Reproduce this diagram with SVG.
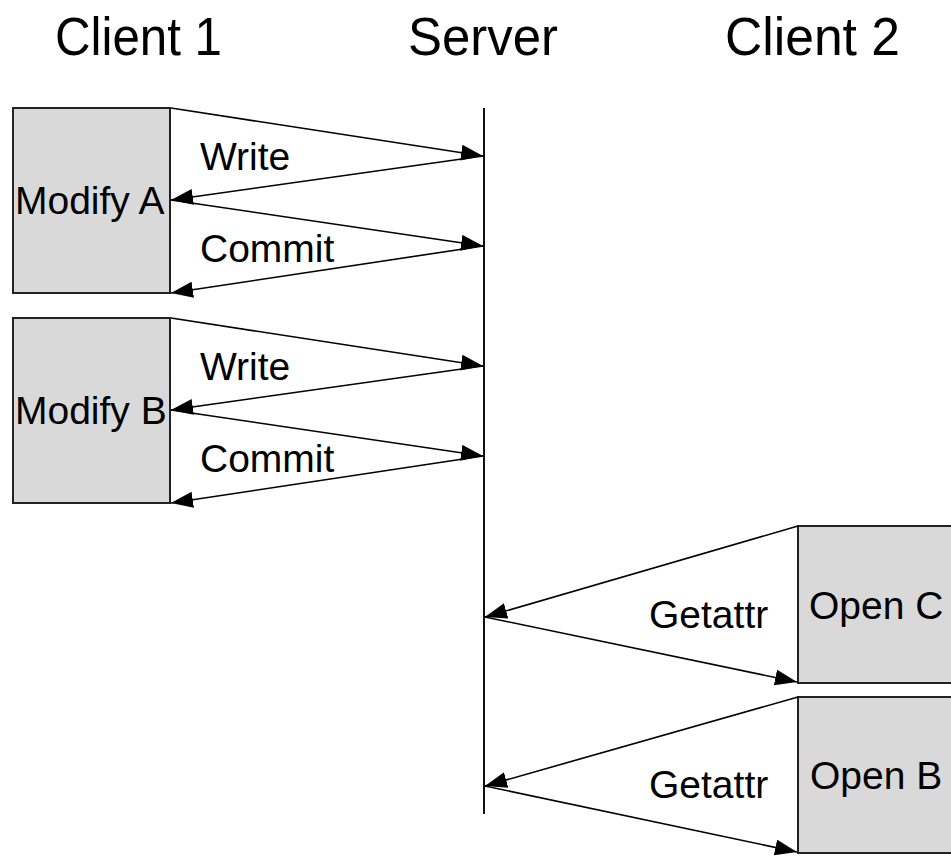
<svg xmlns="http://www.w3.org/2000/svg" width="951" height="856" viewBox="0 0 951 856">
<style>
text{font-family:"Liberation Sans",Arial,sans-serif;fill:#000}
.hdr{font-size:53px}
.lbl{font-size:39px}
.box{fill:#d9d9d9;stroke:#222;stroke-width:2}
.msg{stroke:#000;stroke-width:1.6;fill:none;marker-end:url(#ah)}
</style>
<defs>
<marker id="ah" markerUnits="userSpaceOnUse" markerWidth="24" markerHeight="18" refX="22" refY="8" orient="auto" viewBox="0 0 24 18">
<path d="M0,0 L22,8 L0,16 z" fill="#000"/>
</marker>
</defs>
<rect width="951" height="856" fill="#fff"/>
<g id="headers">
<text class="hdr" x="55" y="55" textLength="167" lengthAdjust="spacingAndGlyphs">Client 1</text>
<text class="hdr" x="408" y="55" textLength="150" lengthAdjust="spacingAndGlyphs">Server</text>
<text class="hdr" x="725" y="55" textLength="175" lengthAdjust="spacingAndGlyphs">Client 2</text>
</g>
<g id="server-line">
<line x1="484" y1="108" x2="484" y2="814" stroke="#111" stroke-width="2"/>
</g>
<g id="modify-a">
<rect class="box" x="13" y="108" width="157" height="185"/>
<text class="lbl" x="15" y="214">Modify A</text>
</g>
<g id="modify-b">
<rect class="box" x="13" y="318" width="157" height="185"/>
<text class="lbl" x="15" y="424">Modify B</text>
</g>
<g id="open-c">
<rect class="box" x="798" y="526" width="160" height="157"/>
<text class="lbl" x="809" y="619">Open C</text>
</g>
<g id="open-b">
<rect class="box" x="798" y="697" width="160" height="156"/>
<text class="lbl" x="810" y="789">Open B</text>
</g>
<g id="connectors">
<line class="msg" x1="171" y1="108" x2="483" y2="156"/>
<line class="msg" x1="483" y1="156" x2="171" y2="200"/>
<line class="msg" x1="171" y1="200" x2="483" y2="246"/>
<line class="msg" x1="483" y1="246" x2="171" y2="293"/>
<line class="msg" x1="171" y1="318" x2="483" y2="366"/>
<line class="msg" x1="483" y1="366" x2="171" y2="410"/>
<line class="msg" x1="171" y1="410" x2="483" y2="456"/>
<line class="msg" x1="483" y1="456" x2="171" y2="503"/>
<line class="msg" x1="798" y1="526" x2="485" y2="617"/>
<line class="msg" x1="485" y1="617" x2="797" y2="682"/>
<line class="msg" x1="798" y1="697" x2="485" y2="786"/>
<line class="msg" x1="485" y1="786" x2="797" y2="852"/>
</g>
<g id="labels">
<text class="lbl" x="200" y="170">Write</text>
<text class="lbl" x="200" y="262">Commit</text>
<text class="lbl" x="200" y="380">Write</text>
<text class="lbl" x="200" y="472">Commit</text>
<text class="lbl" x="649" y="628">Getattr</text>
<text class="lbl" x="649" y="798">Getattr</text>
</g>
</svg>
